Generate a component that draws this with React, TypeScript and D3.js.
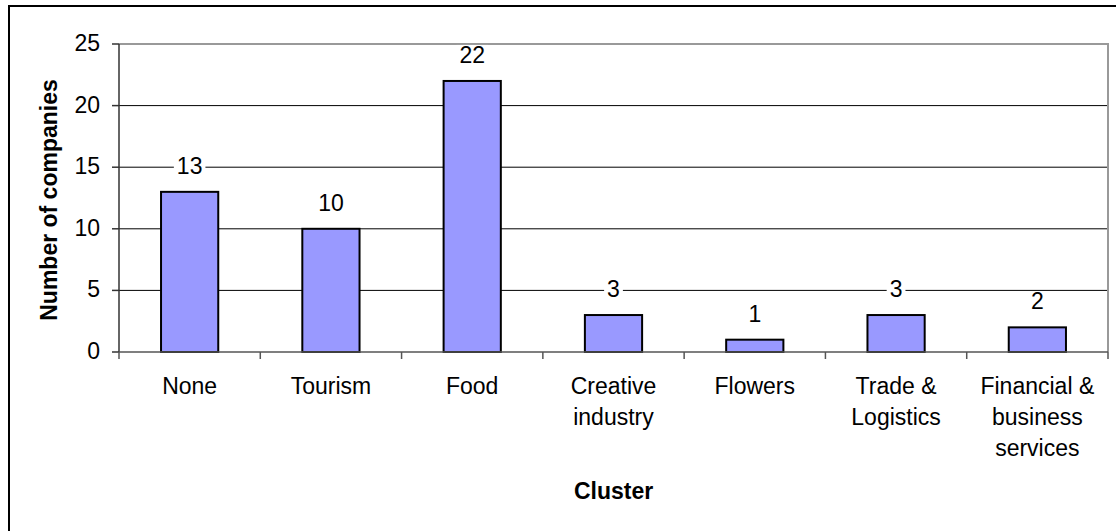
import React from "react";
import * as d3 from "d3";

// Companies per cluster
const categories: string[][] = [
  ["None"],
  ["Tourism"],
  ["Food"],
  ["Creative", "industry"],
  ["Flowers"],
  ["Trade &", "Logistics"],
  ["Financial &", "business", "services"],
];
const values: number[] = [13, 10, 22, 3, 1, 3, 2];
const yTicks: number[] = [0, 5, 10, 15, 20, 25];

const W = 1116;
const H = 531;
const plot = { left: 119, right: 1108, top: 44, bottom: 352 };
const FONT = "'Liberation Sans', Arial, sans-serif";
const FS = 23;

export default function App() {
  const x = d3
    .scaleBand<number>()
    .domain(d3.range(values.length))
    .range([plot.left, plot.right])
    .paddingInner(0.595)
    .paddingOuter(0.2975);
  const band = d3
    .scaleBand<number>()
    .domain(d3.range(values.length))
    .range([plot.left, plot.right]);
  const y = d3.scaleLinear().domain([0, 25]).range([plot.bottom, plot.top]);

  const labelW = (v: number) => String(v).length * FS * 0.556 + 6;

  return (
    <svg
      width={W}
      height={H}
      style={{ position: "absolute", left: 0, top: 0, background: "#fff" }}
      fontFamily={FONT}
    >
      <rect x={0} y={0} width={W} height={H} fill="#fff" />
      {/* outer chart frame */}
      <rect x={9} y={6} width={W + 20} height={H + 20} fill="none" stroke="#000" strokeWidth={2} />

      {/* gridlines */}
      {yTicks.slice(1, -1).map((t) => (
        <line key={t} x1={plot.left} x2={plot.right} y1={y(t)} y2={y(t)} stroke="#000" strokeWidth={1} />
      ))}
      {/* plot area border (top & right) */}
      <path
        d={`M${plot.left},${plot.top}H${plot.right}V${plot.bottom}`}
        fill="none"
        stroke="#999"
        strokeWidth={2}
      />

      {/* bars */}
      {values.map((v, i) => (
        <rect
          key={i}
          x={x(i)}
          y={y(v)}
          width={x.bandwidth()}
          height={y(0) - y(v)}
          fill="#9999FF"
          stroke="#000"
          strokeWidth={2}
        />
      ))}

      {/* value labels */}
      {values.map((v, i) => {
        const cx = (x(i) as number) + x.bandwidth() / 2;
        const w = labelW(v);
        return (
          <g key={i}>
            <rect x={cx - w / 2} y={y(v) - 36} width={w} height={22} fill="#fff" />
            <text x={cx} y={y(v) - 18} textAnchor="middle" fontSize={FS} fill="#000">
              {v}
            </text>
          </g>
        );
      })}

      {/* y axis */}
      <line x1={plot.left} x2={plot.left} y1={plot.top} y2={plot.bottom} stroke="#333" strokeWidth={1.5} />
      {yTicks.map((t) => (
        <g key={t}>
          <line x1={plot.left - 7} x2={plot.left} y1={y(t)} y2={y(t)} stroke="#333" strokeWidth={1.5} />
          <text x={100} y={y(t) + 7} textAnchor="end" fontSize={FS} fill="#000">
            {t}
          </text>
        </g>
      ))}

      {/* x axis */}
      <line x1={plot.left} x2={plot.right} y1={plot.bottom} y2={plot.bottom} stroke="#555" strokeWidth={1.5} />
      {d3.range(values.length + 1).map((i) => {
        const xx = i < values.length ? (band(i) as number) : plot.right;
        return (
          <line key={i} x1={xx} x2={xx} y1={plot.bottom} y2={plot.bottom + 7} stroke="#555" strokeWidth={1.5} />
        );
      })}
      {categories.map((lines, i) => {
        const cx = (band(i) as number) + band.bandwidth() / 2;
        return (
          <text key={i} x={cx} textAnchor="middle" fontSize={FS} fill="#000">
            {lines.map((l, j) => (
              <tspan key={j} x={cx} y={394 + j * 31}>
                {l}
              </tspan>
            ))}
          </text>
        );
      })}

      {/* axis titles */}
      <text x={(plot.left + plot.right) / 2} y={499} textAnchor="middle" fontSize={FS} fontWeight="bold">
        Cluster
      </text>
      <text
        transform={`translate(57,200) rotate(-90)`}
        textAnchor="middle"
        fontSize={FS}
        fontWeight="bold"
      >
        Number of companies
      </text>
    </svg>
  );
}
